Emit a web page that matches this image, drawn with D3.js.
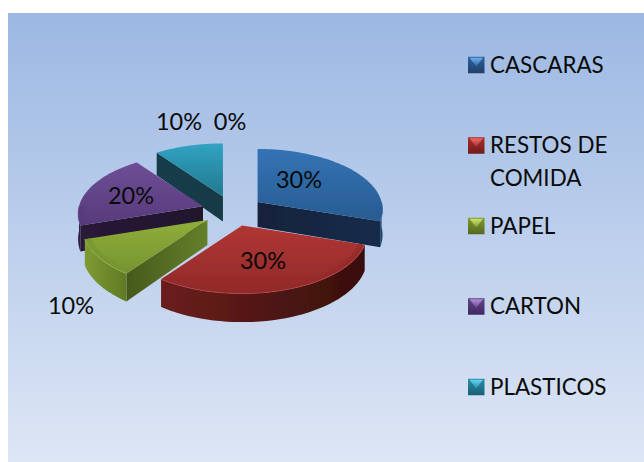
<!DOCTYPE html>
<html>
<head>
<meta charset="utf-8">
<script src="https://cdn.jsdelivr.net/npm/d3@7"></script>
<style>
  html, body { margin: 0; padding: 0; background: #fff; overflow: hidden; }
  text { font-family: Lato, "Open Sans", sans-serif; fill: #0a0a0a; }
</style>
</head>
<body>
<script>
// datos
const categories = ['CASCARAS', 'RESTOS DE|COMIDA', 'PAPEL', 'CARTON', 'PLASTICOS'];
const values = [30, 30, 10, 20, 10, 0];
const valueLabels = ['30%', '30%', '10%', '20%', '10%', '0%'];

const topColors = [['#3273b5', '#2a5c92'], ['#b03633', '#92292a'], ['#8fae3a', '#759430'], ['#6e4e96', '#573a7a'], ['#31a3c2', '#23788f']];
const rimColors = ['#4a86c4', '#c4524e', '#a3c24e', '#8465ab', '#4bb6d2'];
const wallColors = [['#12233c', '#142c4a'], ['#6b1f1c', '#380f0d'], ['#46591c', '#64802b'], ['#2a1a38', '#20142c'], ['#123c4a', '#133a46']];
const outerColors = [['#1d4268', '#1d4268'], ['#6b1f1c', '#380f0d'], ['#7f9a33', '#5f7a24'], ['#3a2550', '#2a1a38'], ['#123c4a', '#133a46']];
const swatchColors = [['#6fb0ee', '#2f639e', '#1f3f66'], ['#ee6b66', '#a8302d', '#6f1c1a'], ['#c9e86a', '#7e9a33', '#55691f'], ['#b48fd8', '#62448a', '#41295f'], ['#63d6ee', '#2a8ca8', '#185f75']];

const labelPos = [[299, 180], [263, 261], [71, 306], [131, 196], [179, 122], [230, 122]];

const width = 644, height = 462;
const svg = d3.select('body').append('svg').attr('width', width).attr('height', height).style('display', 'block');
const defs = svg.append('defs');

function gradient(id, c0, c1, horizontal) {
  const g = defs.append('linearGradient').attr('id', id)
    .attr('x1', 0).attr('y1', 0).attr('x2', horizontal ? 1 : 0).attr('y2', horizontal ? 0 : 1);
  g.append('stop').attr('offset', 0).attr('stop-color', c0);
  g.append('stop').attr('offset', 1).attr('stop-color', c1);
  return `url(#${id})`;
}

svg.append('rect').attr('x', 8).attr('y', 13).attr('width', width - 8).attr('height', height - 13)
  .attr('fill', gradient('bg', '#9cb8e3', '#dde6f5'));

defs.append('filter').attr('id', 'soft').attr('x', '-10%').attr('y', '-10%').attr('width', '120%').attr('height', '120%')
  .append('feGaussianBlur').attr('stdDeviation', 0.6);

// proyeccion del pie con perspectiva
const rx = 124, ry = 59.6, persp = 0.124, depth = 25;
const cx = 232.5, cy = 211, explodeX = 31, explodeY = 15.3;

function project(t, r, apex, low) {
  const u = Math.sin(t) * r, v = -Math.cos(t) * r;
  const s = 1 / (1 - persp * v);
  return [apex[0] + rx * u * s, apex[1] + ry * v * s + (low ? depth * s : 0)];
}

const line = d3.line();
const pie = d3.pie().sort(null).value(d => d);
const arcs = pie(values).map((d, i) => ({ ...d, i })).filter(d => d.value > 0);

arcs.forEach(d => {
  d.mid = (d.startAngle + d.endAngle) / 2;
  d.apex = [cx + explodeX * Math.sin(d.mid), cy - explodeY * Math.cos(d.mid)];
});

// de atras hacia adelante
arcs.sort((a, b) => Math.cos(b.mid) - Math.cos(a.mid));

const chart = svg.append('g').attr('filter', 'url(#soft)');

arcs.forEach(d => {
  const g = chart.append('g');
  const apexLow = [d.apex[0], d.apex[1] + depth];
  const [w0, w1] = wallColors[d.i];

  // caras de corte, solo las que miran al frente
  [[d.startAngle, 1], [d.endAngle, -1]].forEach(([t, side], k) => {
    if (side * Math.sin(t) > -1e-6) return;
    const a = project(t, 1, d.apex, false), b = project(t, 1, d.apex, true);
    g.append('path')
      .attr('d', line([d.apex, a, b, apexLow]) + 'Z')
      .attr('fill', gradient(`cut${d.i}${k}`, w0, w1, true));
  });

  // pared exterior, solo la parte delantera
  const a0 = Math.max(d.startAngle, Math.PI / 2), a1 = Math.min(d.endAngle, Math.PI * 1.5);
  const front = d3.range(0, 41).map(k => a0 + (a1 - a0) * k / 40);
  if (a1 > a0) {
    const pts = front.map(t => project(t, 1, d.apex, false)).concat(front.slice().reverse().map(t => project(t, 1, d.apex, true)));
    g.append('path').attr('d', line(pts) + 'Z')
      .attr('fill', gradient(`wall${d.i}`, outerColors[d.i][0], outerColors[d.i][1], true));
  }

  // cara superior
  const ts = d3.range(0, 61).map(k => d.startAngle + (d.endAngle - d.startAngle) * k / 60);
  const pts = [d.apex].concat(ts.map(t => project(t, 1, d.apex, false)));
  const [t0, t1] = topColors[d.i];
  g.append('path').attr('d', line(pts) + 'Z').attr('fill', gradient(`top${d.i}`, t0, t1, false));

  // banda oscura y filo claro, solo en el borde delantero
  if (a1 > a0) {
    const inner = front.map(t => project(t, 0.95, d.apex, false));
    const outer = front.map(t => project(t, 1, d.apex, false));
    g.append('path').attr('d', line(inner.concat(outer.slice().reverse())) + 'Z').attr('fill', t1).attr('opacity', 0.6);
    g.append('path').attr('d', line(outer)).attr('fill', 'none').attr('stroke', rimColors[d.i]).attr('stroke-width', 1).attr('opacity', 0.6);
  }
});

// etiquetas de datos
svg.append('g').selectAll('text').data(valueLabels).join('text')
  .attr('x', (d, i) => labelPos[i][0])
  .attr('y', (d, i) => labelPos[i][1])
  .attr('dy', '0.35em')
  .attr('text-anchor', 'middle')
  .attr('font-size', 23.5)
  .text(d => d);

// leyenda
const legendY = d3.scalePoint().domain(categories).range([65, 387]);
const sw = 16.5;
const legend = svg.append('g').selectAll('g').data(categories).join('g')
  .attr('transform', d => `translate(468,${legendY(d)})`);

legend.each(function (d, i) {
  const g = d3.select(this);
  const [light, mid, dark] = swatchColors[i];
  const h = sw / 2;
  g.append('rect').attr('x', 0).attr('y', -h).attr('width', sw).attr('height', sw)
    .attr('fill', gradient(`sw${i}`, mid, dark, false));
  g.append('path').attr('d', line([[1.5, -h + 1], [sw - 1.5, -h + 1], [h, 1.5]]) + 'Z')
    .attr('fill', gradient(`swl${i}`, light, mid, false));
  d.split('|').forEach((part, k) => {
    g.append('text').attr('x', 22).attr('y', k * 33).attr('dy', '0.35em').attr('font-size', 22.4).text(part);
  });
});
</script>
</body>
</html>
